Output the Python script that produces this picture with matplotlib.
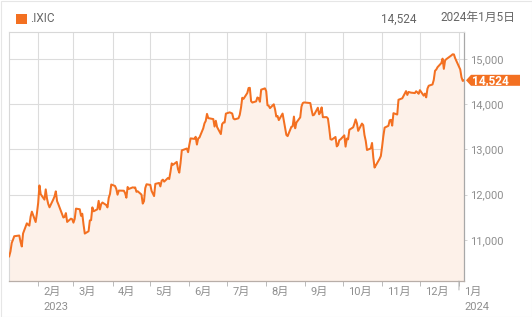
import matplotlib
matplotlib.use("Agg")
import matplotlib.pyplot as plt
import matplotlib.dates as mdates
from matplotlib.patches import Polygon, Rectangle
import matplotlib.transforms as mtransforms
import numpy as np
import datetime as dt

# ---------------- data ----------------
symbol = ".IXIC"
last_label = "14,524"
last_date_label = "2024年1月5日"

month_days = {
    (2023, 1): [9, 10, 11, 12, 13, 17, 18, 19, 20, 23, 24, 25, 26, 27, 30, 31],
    (2023, 2): [1, 2, 3, 6, 7, 8, 9, 10, 13, 14, 15, 16, 17, 21, 22, 23, 24, 27, 28],
    (2023, 3): [1, 2, 3, 6, 7, 8, 9, 10, 13, 14, 15, 16, 17, 20, 21, 22, 23, 24, 27, 28, 29, 30, 31],
    (2023, 4): [3, 4, 5, 6, 10, 11, 12, 13, 14, 17, 18, 19, 20, 21, 24, 25, 26, 27, 28],
    (2023, 5): [1, 2, 3, 4, 5, 8, 9, 10, 11, 12, 15, 16, 17, 18, 19, 22, 23, 24, 25, 26, 30, 31],
    (2023, 6): [1, 2, 5, 6, 7, 8, 9, 12, 13, 14, 15, 16, 20, 21, 22, 23, 26, 27, 28, 29, 30],
    (2023, 7): [3, 5, 6, 7, 10, 11, 12, 13, 14, 17, 18, 19, 20, 21, 24, 25, 26, 27, 28, 31],
    (2023, 8): [1, 2, 3, 4, 7, 8, 9, 10, 11, 14, 15, 16, 17, 18, 21, 22, 23, 24, 25, 28, 29, 30, 31],
    (2023, 9): [1, 5, 6, 7, 8, 11, 12, 13, 14, 15, 18, 19, 20, 21, 22, 25, 26, 27, 28, 29],
    (2023, 10): [2, 3, 4, 5, 6, 9, 10, 11, 12, 13, 16, 17, 18, 19, 20, 23, 24, 25, 26, 27, 30, 31],
    (2023, 11): [1, 2, 3, 6, 7, 8, 9, 10, 13, 14, 15, 16, 17, 20, 21, 22, 24, 27, 28, 29, 30],
    (2023, 12): [1, 4, 5, 6, 7, 8, 11, 12, 13, 14, 15, 18, 19, 20, 21, 22, 26, 27, 28, 29],
    (2024, 1): [2, 3, 4, 5],
}

values = [
    # Jan 2023
    10635, 10742, 10931, 11001, 11079, 11095, 10957, 10852, 11140, 11364, 11334, 11313, 11512, 11622, 11393, 11585,
    # Feb
    11816, 12201, 12007, 11888, 12114, 11910, 11790, 11718, 11892, 11960, 12071, 11855, 11787, 11492, 11507, 11590, 11395, 11467, 11456,
    # Mar
    11379, 11462, 11689, 11675, 11531, 11576, 11338, 11138, 11189, 11428, 11434, 11717, 11630, 11675, 11860, 11670, 11787, 11824, 11768, 11716, 11926, 12013, 12222,
    # Apr
    12189, 12126, 11996, 12088, 12084, 12031, 11930, 12167, 12124, 12158, 12154, 12157, 12060, 12072, 11999, 11800, 11854, 12143, 12227,
    # May
    12213, 12081, 12025, 11966, 12236, 12256, 12180, 12306, 12329, 12285, 12366, 12343, 12500, 12688, 12658, 12721, 12560, 12484, 12698, 12976, 13017, 12936,
    # Jun
    13101, 13241, 13230, 13276, 13104, 13239, 13259, 13461, 13573, 13626, 13782, 13689, 13667, 13502, 13630, 13492, 13336, 13555, 13591, 13592, 13788,
    # Jul
    13816, 13791, 13679, 13661, 13685, 13760, 13918, 14138, 14114, 14244, 14353, 14358, 14063, 14033, 14059, 14145, 14127, 14050, 14317, 14346,
    # Aug
    14284, 13974, 13960, 13909, 13994, 13885, 13723, 13737, 13645, 13789, 13632, 13474, 13317, 13291, 13498, 13506, 13722, 13464, 13591, 13705, 13944, 14020, 14035,
    # Sep
    14032, 14021, 13873, 13749, 13762, 13918, 13774, 13814, 13926, 13708, 13711, 13679, 13469, 13224, 13212, 13272, 13064, 13093, 13201, 13219,
    # Oct
    13308, 13059, 13236, 13220, 13431, 13485, 13563, 13660, 13574, 13407, 13568, 13534, 13315, 13187, 12984, 13019, 13140, 12821, 12596, 12643, 12790, 12851,
    # Nov
    13061, 13294, 13478, 13519, 13640, 13651, 13522, 13798, 13768, 14094, 14104, 14114, 14126, 14285, 14200, 14266, 14251, 14242, 14282, 14258, 14226,
    # Dec
    14306, 14185, 14230, 14147, 14340, 14404, 14432, 14533, 14734, 14762, 14814, 14905, 15003, 14777, 14964, 14992, 15074, 15099, 15095, 15011,
    # Jan 2024
    14765, 14592, 14510, 14524,
]

month_ticks = [(2023, 2), (2023, 3), (2023, 4), (2023, 5), (2023, 6), (2023, 7), (2023, 8),
               (2023, 9), (2023, 10), (2023, 11), (2023, 12), (2024, 1)]
month_labels = ["2月", "3月", "4月", "5月", "6月", "7月", "8月", "9月", "10月", "11月", "12月", "1月"]
year_labels = {0: "2023", 11: "2024"}
y_ticks = [11000, 12000, 13000, 14000, 15000]
y_tick_labels = ["11,000", "12,000", "13,000", "14,000", "15,000"]

dates = [dt.date(y, m, d) for (y, m), days in month_days.items() for d in days]

# ---------------- style ----------------
W, H = 532, 317
DPI = 100
ORANGE = "#f37021"
FILL = "#fdf1e9"
GRID = "#dcdcdc"
TXT = "#8f8f8f"
FONT = ["Roboto", "Noto Sans CJK JP", "DejaVu Sans"]
plt.rcParams["font.family"] = FONT

fig = plt.figure(figsize=(W / DPI, H / DPI), dpi=DPI)
fig.patch.set_facecolor("white")

# axes in pixel geometry
L, R, T, B = 9.2, 464.0, 31.6, 281.0
ax = fig.add_axes([L / W, 1 - B / H, (R - L) / W, (B - T) / H])
ax.set_facecolor("white")

x = mdates.date2num(dates)
ymin, ymax = 10090, 15600
ax.set_xlim(mdates.date2num(dt.date(2023, 1, 9)), mdates.date2num(dt.date(2024, 1, 5)))
ax.set_ylim(ymin, ymax)

ax.fill_between(x, values, ymin, color=FILL, zorder=2, linewidth=0)
ax.plot(x, values, color=ORANGE, lw=1.45, zorder=3, solid_joinstyle="round")

tick_x = [mdates.date2num(dt.date(y, m, 1)) for y, m in month_ticks]
for tx in tick_x:
    ax.axvline(tx, color=GRID, lw=0.8, zorder=1)
for ty in y_ticks:
    ax.axhline(ty, color=GRID, lw=0.8, zorder=1)

# spines
for s in ["top", "left"]:
    ax.spines[s].set_color("#d8d8d8")
    ax.spines[s].set_linewidth(0.8)
ax.spines["right"].set_color("#a8a8a8")
ax.spines["right"].set_linewidth(0.9)
ax.spines["bottom"].set_color("#b8aea8")
ax.spines["bottom"].set_linewidth(0.9)

# y ticks on right
ax.yaxis.tick_right()
ax.set_yticks(y_ticks)
ax.set_yticklabels(y_tick_labels)
ax.tick_params(axis="y", length=2, width=0.6, color="#cccccc", pad=2.5,
               labelsize=8, labelcolor=TXT)

# x ticks: drawn with labels manually
ax.set_xticks(tick_x)
ax.set_xticklabels([])
ax.tick_params(axis="x", length=3.5, width=0.6, color="#b0b0b0")
xt = ax.get_xaxis_transform()
off = mtransforms.ScaledTranslation(5 / DPI, 0, fig.dpi_scale_trans)
for i, (tx, lab) in enumerate(zip(tick_x, month_labels)):
    ax.text(tx, 0, lab, transform=xt + off + mtransforms.ScaledTranslation(0, -11 / DPI, fig.dpi_scale_trans),
            ha="left", va="center", fontsize=8, color=TXT, clip_on=False)
    if i in year_labels:
        ax.text(tx, 0, year_labels[i],
                transform=xt + off + mtransforms.ScaledTranslation(0, -26 / DPI, fig.dpi_scale_trans),
                ha="left", va="center", fontsize=8, color=TXT, clip_on=False)
# longer tick at year boundary
ax.annotate("", xy=(tick_x[-1], 0), xycoords=xt, xytext=(0, -9), textcoords="offset pixels",
            arrowprops=dict(arrowstyle="-", color="#b0b0b0", lw=0.7, shrinkA=0, shrinkB=0))

# current-value tag
fig.canvas.draw()
_, ypix = ax.transData.transform((x[-1], values[-1]))
ytop = H - ypix  # from top
tip_x, box_l, box_r, hh = 466.0, 471.0, 520.0, 5.5
pts_img = [(tip_x, ytop), (box_l, ytop - hh), (box_r, ytop - hh), (box_r, ytop + hh), (box_l, ytop + hh)]
pts = [(px / W, 1 - py / H) for px, py in pts_img]
fig.patches.append(Polygon(pts, closed=True, transform=fig.transFigure, facecolor=ORANGE,
                           edgecolor="none", zorder=5))
fig.text(472.0 / W, 1 - ytop / H, last_label, ha="left", va="center", fontsize=8.6,
         color="white", fontweight="bold", zorder=6)

# header legend
fig.patches.append(Rectangle((16 / W, 1 - 24 / H), 10.5 / W, 10.3 / H, transform=fig.transFigure,
                             facecolor=ORANGE, edgecolor="none"))
fig.text(30.5 / W, 1 - 19 / H, symbol, ha="left", va="center", fontsize=8.5, color="#666666")
fig.text(416 / W, 1 - 19 / H, last_label, ha="right", va="center", fontsize=8.5, color="#666666")
fig.text(515.5 / W, 1 - 17.5 / H, last_date_label, ha="right", va="center", fontsize=8.5, color="#666666")

# outer frame
fig.patches.append(Rectangle((0.5 / W, 0.5 / H), (W - 1) / W, (H - 1.5) / H, transform=fig.transFigure,
                             facecolor="none", edgecolor="#e6e6e6", lw=0.8))

fig.savefig("out.png", dpi=DPI)
